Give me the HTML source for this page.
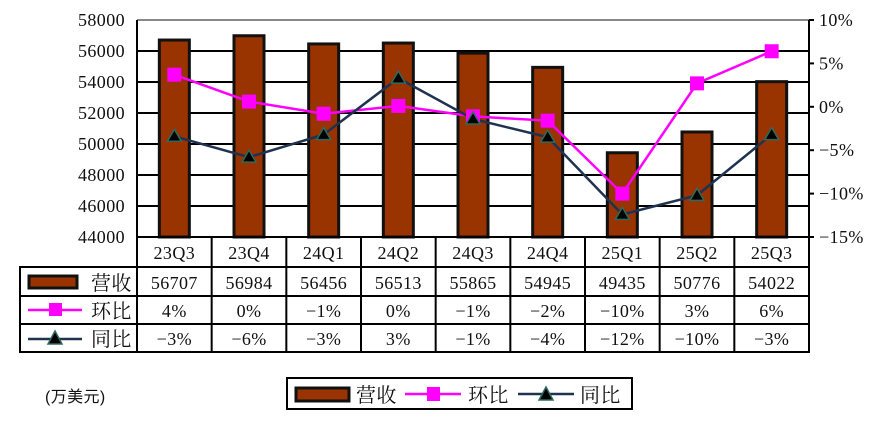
<!DOCTYPE html>
<html><head><meta charset="utf-8"><style>
html,body{margin:0;padding:0;background:#fff;}
svg text{font-family:"Liberation Serif","Noto Serif CJK SC",serif;font-size:18px;letter-spacing:0.4px;fill:#111;}
</style></head><body>
<svg id="c" width="878" height="426" xmlns="http://www.w3.org/2000/svg"></svg>
<script>
const categories=["23Q3","23Q4","24Q1","24Q2","24Q3","24Q4","25Q1","25Q2","25Q3"];
const revenue=[56707,56984,56456,56513,55865,54945,49435,50776,54022];
const qoq=[3.7,0.6,-0.8,0.1,-1.1,-1.6,-10.0,2.7,6.4];
const yoy=[-3.4,-5.8,-3.2,3.3,-1.4,-3.5,-12.4,-10.2,-3.2];
const qoqLabels=["4%","0%","-1%","0%","-1%","-2%","-10%","3%","6%"];
const yoyLabels=["-3%","-6%","-3%","3%","-1%","-4%","-12%","-10%","-3%"];
const leftTicks=[44000,46000,48000,50000,52000,54000,56000,58000];
const rightTicks=[-15,-10,-5,0,5,10];

const svg=document.getElementById('c');
const NS="http://www.w3.org/2000/svg";
const L=137,R=809,T=20,B=237;
const cw=(R-L)/categories.length;
const yL=v=>B-(v-44000)/(58000-44000)*(B-T);
const yR=v=>B-(v+15)/25*(B-T);
const xC=i=>L+cw*(i+0.5);
function mk(tag,attrs,parent){const e=document.createElementNS(NS,tag);for(const k in attrs)e.setAttribute(k,attrs[k]);(parent||svg).appendChild(e);return e;}
function txt(x,y,s,anchor,parent){const t=mk('text',{x:x,y:y,'text-anchor':anchor||'middle'},parent);t.textContent=s;return t;}

leftTicks.forEach(v=>{
  const l=mk('line',{x1:L,x2:R,y1:yL(v),y2:yL(v),stroke:v===58000?'#888':'#000','stroke-width':2});
  
  
  const t=txt(L-12,yL(v)+6,String(v),'end');
  
  
});
rightTicks.forEach(v=>{
  const t=txt(R+10,yR(v)+6,(v<0?'\u2212'+(-v):v)+'%','start');
  
  
  mk('line',{x1:R,x2:R+5,y1:yR(v),y2:yR(v),stroke:'#000','stroke-width':2});
});
mk('line',{x1:L,x2:L,y1:T,y2:B,stroke:'#000','stroke-width':2});
mk('line',{x1:R,x2:R,y1:T,y2:B,stroke:'#000','stroke-width':2});

revenue.forEach((v,i)=>{
  const b=mk('rect',{x:xC(i)-15,y:yL(v),width:30,height:B-yL(v),fill:'#993300',stroke:'#111','stroke-width':3});
  
  
});
const qp=mk('polyline',{points:qoq.map((v,i)=>xC(i)+','+yR(v)).join(' '),fill:'none',stroke:'#ff00ff','stroke-width':2.5});


const yp=mk('polyline',{points:yoy.map((v,i)=>xC(i)+','+yR(v)).join(' '),fill:'none',stroke:'#1f3350','stroke-width':2.5});


qoq.forEach((v,i)=>{
  const m=mk('rect',{x:xC(i)-7,y:yR(v)-7,width:14,height:14,fill:'#ff00ff'});
  
  
});
yoy.forEach((v,i)=>{
  const x=xC(i),y=yR(v);
  const m=mk('polygon',{points:`${x},${y-7} ${x-7},${y+5} ${x+7},${y+5}`,fill:'#000',stroke:'#2e6b5e','stroke-width':1.5});
  
  
});

const rows=[237,267,296,324,352];
const TL=20;
mk('rect',{x:L,y:rows[0],width:R-L,height:rows[1]-rows[0],fill:'none',stroke:'#000','stroke-width':2});
mk('rect',{x:TL,y:rows[1],width:R-TL,height:rows[4]-rows[1],fill:'none',stroke:'#000','stroke-width':2});
for(let r=2;r<4;r++)mk('line',{x1:TL,x2:R,y1:rows[r],y2:rows[r],stroke:'#000','stroke-width':2});
for(let i=0;i<=categories.length;i++)mk('line',{x1:L+cw*i,x2:L+cw*i,y1:rows[0],y2:rows[4],stroke:'#000','stroke-width':2});
categories.forEach((c,i)=>{
  const a=txt(xC(i),rows[0]+22,c);
  const b=txt(xC(i),rows[1]+22,String(revenue[i]));
  const q=txt(xC(i),rows[2]+21,qoqLabels[i].replace('-','\u2212'));
  const y=txt(xC(i),rows[3]+21,yoyLabels[i].replace('-','\u2212'));
});
mk('rect',{x:29,y:276,width:48,height:12,fill:'#993300',stroke:'#111','stroke-width':3});
txt(91,290,'营收','start').setAttribute('style','font-size:20px');
mk('line',{x1:28,x2:82,y1:310,y2:310,stroke:'#ff00ff','stroke-width':2.5});
mk('rect',{x:49,y:303,width:13,height:13,fill:'#ff00ff'});
txt(91,318,'环比','start').setAttribute('style','font-size:20px');
mk('line',{x1:28,x2:82,y1:339,y2:339,stroke:'#1f3350','stroke-width':2.5});
mk('polygon',{points:'55,331 48,344 62,344',fill:'#000',stroke:'#2e6b5e','stroke-width':1.5});
txt(91,346,'同比','start').setAttribute('style','font-size:20px');

const u=txt(45,402,'(万美元)','start');u.setAttribute('style','font-family:"Liberation Sans","Noto Sans CJK SC",sans-serif;font-size:16px');



const g=mk('g',{});


mk('rect',{x:287,y:378,width:345,height:31,fill:'#fff',stroke:'#000','stroke-width':2},g);
mk('rect',{x:296,y:388,width:53,height:13,fill:'#993300',stroke:'#111','stroke-width':3},g);
txt(356,402,'营收','start',g).setAttribute('style','font-size:20px');
mk('line',{x1:405,x2:461,y1:394,y2:394,stroke:'#ff00ff','stroke-width':2.5},g);
mk('rect',{x:427,y:387,width:13,height:14,fill:'#ff00ff'},g);
txt(468,402,'环比','start',g).setAttribute('style','font-size:20px');
mk('line',{x1:518,x2:574,y1:394,y2:394,stroke:'#1f3350','stroke-width':2.5},g);
mk('polygon',{points:'546,387 539,400 553,400',fill:'#000',stroke:'#2e6b5e','stroke-width':1.5},g);
txt(580,402,'同比','start',g).setAttribute('style','font-size:20px');
</script>
</body></html>
